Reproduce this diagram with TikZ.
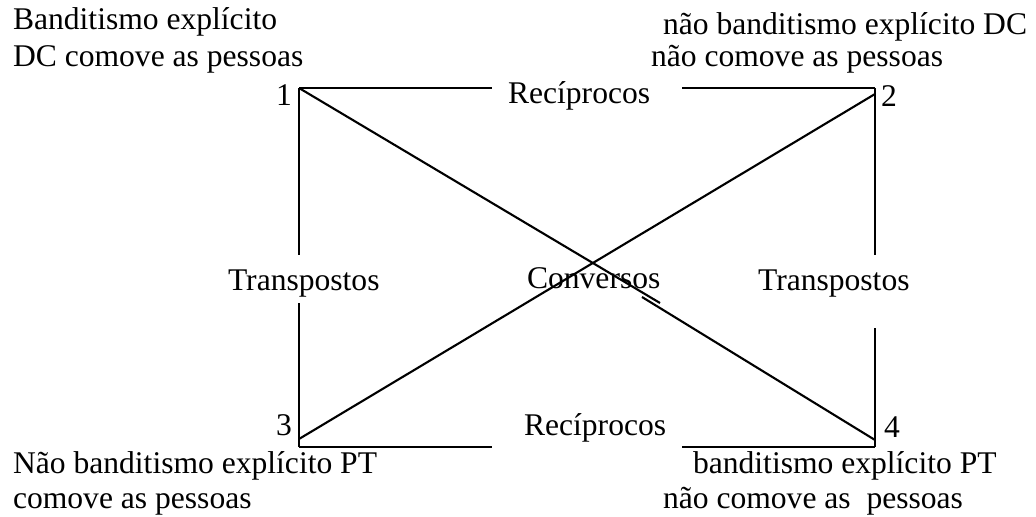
\documentclass[tikz,border=0pt]{standalone}
\usepackage{fontspec}
\setmainfont{Liberation Serif}
\usepackage{tikz}

\begin{document}
\begin{tikzpicture}[x=0.38pt,y=-0.38pt,line width=0.8pt,
                    lbl/.style={inner sep=0pt,anchor=base west,font=\fontsize{12}{14}\selectfont}]
       \useasboundingbox (0,0) rectangle (1036,516);

       % corners of the square
       \coordinate (c1) at (299,88);
       \coordinate (c2) at (875,88);
       \coordinate (c3) at (299,447);
       \coordinate (c4) at (875,447);
       \coordinate (d2) at (875,94);
       \coordinate (d3) at (299,439);
       \coordinate (d4) at (875,440);
       \coordinate (d1a) at (660,303);
       \coordinate (d1b) at (642,297);

       % ends of the broken sides
       \coordinate (t1) at (492,88);
       \coordinate (t2) at (682,88);
       \coordinate (b1) at (492,447);
       \coordinate (b2) at (682,447);
       \coordinate (l1) at (299,255);
       \coordinate (l2) at (299,303);
       \coordinate (r1) at (875,255);
       \coordinate (r2) at (875,328);

       \node[lbl] (n1) at (275,105) {1};
       \node[lbl] (n2) at (880,106) {2};
       \node[lbl] (n3) at (275,435) {3};
       \node[lbl] (n4) at (883,437) {4};

       \node[lbl] (recT) at (507,103) {Recíprocos};
       \node[lbl] (recB) at (523,435) {Recíprocos};
       \node[lbl] (trL) at (227,290) {Transpostos};
       \node[lbl] (trR) at (757,290) {Transpostos};
       \node[lbl] (conv) at (526,288) {Conversos};

       \node[lbl] (tl1) at (12,29) {Banditismo explícito};
       \node[lbl] (tl2) at (12,66) {DC comove as pessoas};
       \node[lbl] (tr1) at (662,34) {não banditismo explícito DC};
       \node[lbl] (tr2) at (650,66) {não comove as pessoas};
       \node[lbl] (bl1) at (12,473) {Não banditismo explícito PT};
       \node[lbl] (bl2) at (12,508) {comove as pessoas};
       \node[lbl] (br1) at (692,473) {banditismo explícito PT};
       \node[lbl] (br2) at (662,508) {não comove as\ \ pessoas};

       \draw (c1) -- (t1);
       \draw (t2) -- (c2);
       \draw (c3) -- (b1);
       \draw (b2) -- (c4);
       \draw (c1) -- (l1);
       \draw (l2) -- (c3);
       \draw (c2) -- (r1);
       \draw (r2) -- (c4);
       \draw (c1) -- (d1a);
       \draw (d1b) -- (d4);
       \draw (d3) -- (d2);
\end{tikzpicture}
\end{document}
